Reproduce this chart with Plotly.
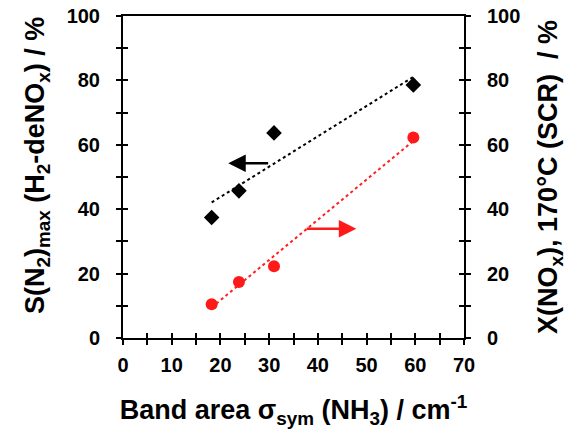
import plotly.graph_objects as go

# Data
band_area = [18.2, 23.8, 31.0, 59.6]
s_n2_max = [37.4, 45.7, 63.7, 78.6]
x_nox = [10.5, 17.4, 22.3, 62.3]
trend_x = [18.2, 59.6]
s_n2_trend = [42.1, 81.1]
x_nox_trend = [9.5, 61.2]
x_ticks = [0, 10, 20, 30, 40, 50, 60, 70]
y_ticks = [0, 20, 40, 60, 80, 100]

FONT = "Liberation Sans"
fig = go.Figure()

fig.add_trace(go.Scatter(x=trend_x, y=s_n2_trend, mode="lines",
                         line=dict(color="black", width=2, dash="dot"),
                         xaxis="x", yaxis="y", showlegend=False))
fig.add_trace(go.Scatter(x=band_area, y=s_n2_max, mode="markers",
                         marker=dict(symbol="diamond", size=12, color="black"),
                         xaxis="x", yaxis="y", showlegend=False))
fig.add_trace(go.Scatter(x=trend_x, y=x_nox_trend, mode="lines",
                         line=dict(color="#ff2020", width=2, dash="dot"),
                         xaxis="x", yaxis="y2", showlegend=False))
fig.add_trace(go.Scatter(x=band_area, y=x_nox, mode="markers",
                         marker=dict(symbol="circle", size=12, color="#ff1a1a"),
                         xaxis="x", yaxis="y2", showlegend=False))

tickfont = dict(family=FONT, size=20, color="black", weight="bold")
titlefont = dict(family=FONT, size=27, color="black", weight="bold")

common = dict(showgrid=False, zeroline=False, showline=True, linecolor="black", linewidth=2,
              tickcolor="black", tickwidth=2, automargin=False)

def minor(dt, where):
    return dict(dtick=dt, tick0=0, ticks=where, ticklen=5, tickcolor="black", tickwidth=2)

fig.update_layout(
    template="none",
    width=567, height=430,
    margin=dict(l=123, r=103, t=16, b=92),
    paper_bgcolor="white", plot_bgcolor="white",
    xaxis=dict(range=[0, 70], tickvals=x_ticks, ticks="outside", ticklen=5,
               minor=minor(5, "outside"),
               tickfont=tickfont, ticklabelstandoff=3,
               title=dict(text="Band area σ<sub>sym</sub> (NH<sub>3</sub>) / cm<sup>-1</sup>",
                          font=titlefont, standoff=25),
               **common),
    xaxis2=dict(range=[0, 70], overlaying="x", side="bottom", tickvals=x_ticks,
                ticks="inside", ticklen=5, showticklabels=False, anchor="y",
                minor=minor(5, "inside"), **common),
    xaxis3=dict(range=[0, 70], overlaying="x", side="top", ticks="", showticklabels=False,
                anchor="y", **common),
    yaxis=dict(range=[0, 100], tickvals=y_ticks, ticks="outside", ticklen=5,
               minor=minor(10, "outside"),
               tickfont=tickfont, ticklabelstandoff=12,
               **common),
    yaxis2=dict(range=[0, 100], overlaying="y", side="right", tickvals=y_ticks,
                ticks="outside", ticklen=5, anchor="x",
                minor=minor(10, "outside"),
                tickfont=tickfont, ticklabelstandoff=12,
                title=dict(text="X(NO<sub>x</sub>), 170°C (SCR)  / %",
                           font=titlefont, standoff=20),
                **common),
    yaxis3=dict(range=[0, 100], overlaying="y", side="left", tickvals=y_ticks,
                ticks="inside", ticklen=5, showticklabels=False, anchor="x",
                minor=minor(10, "inside"), **common),
    yaxis4=dict(range=[0, 100], overlaying="y", side="right", tickvals=y_ticks,
                ticks="inside", ticklen=5, showticklabels=False, anchor="x",
                minor=minor(10, "inside"), **common),
)

# Left axis title as an annotation (sits slightly above the axis centre in the reference)
fig.add_annotation(text="S(N<sub>2</sub>)<sub>max</sub> (H<sub>2</sub>-deNO<sub>x</sub>) / %",
                   xref="paper", yref="paper", x=0, y=0.5, xshift=-86, yshift=11,
                   xanchor="center", yanchor="middle", textangle=-90, showarrow=False,
                   font=titlefont)

# empty traces so the overlay axes are drawn
fig.add_trace(go.Scatter(x=[None], y=[None], xaxis="x2", yaxis="y3", showlegend=False, hoverinfo="skip"))
fig.add_trace(go.Scatter(x=[None], y=[None], xaxis="x3", yaxis="y4", showlegend=False, hoverinfo="skip"))

# Arrows indicating which axis each series belongs to
fig.add_annotation(x=21.6, y=54.3, ax=30.1, ay=54.3, xref="x", yref="y", axref="x", ayref="y",
                   showarrow=True, arrowhead=2, arrowsize=1.4, arrowwidth=2.5, arrowcolor="black", text="")
fig.add_annotation(x=47.9, y=33.9, ax=37.4, ay=33.9, xref="x", yref="y", axref="x", ayref="y",
                   showarrow=True, arrowhead=2, arrowsize=1.4, arrowwidth=2.5, arrowcolor="#ff1a1a", text="")

fig.write_html("out.html", config={"displayModeBar": False},
               post_script="document.body.style.margin='0';")
